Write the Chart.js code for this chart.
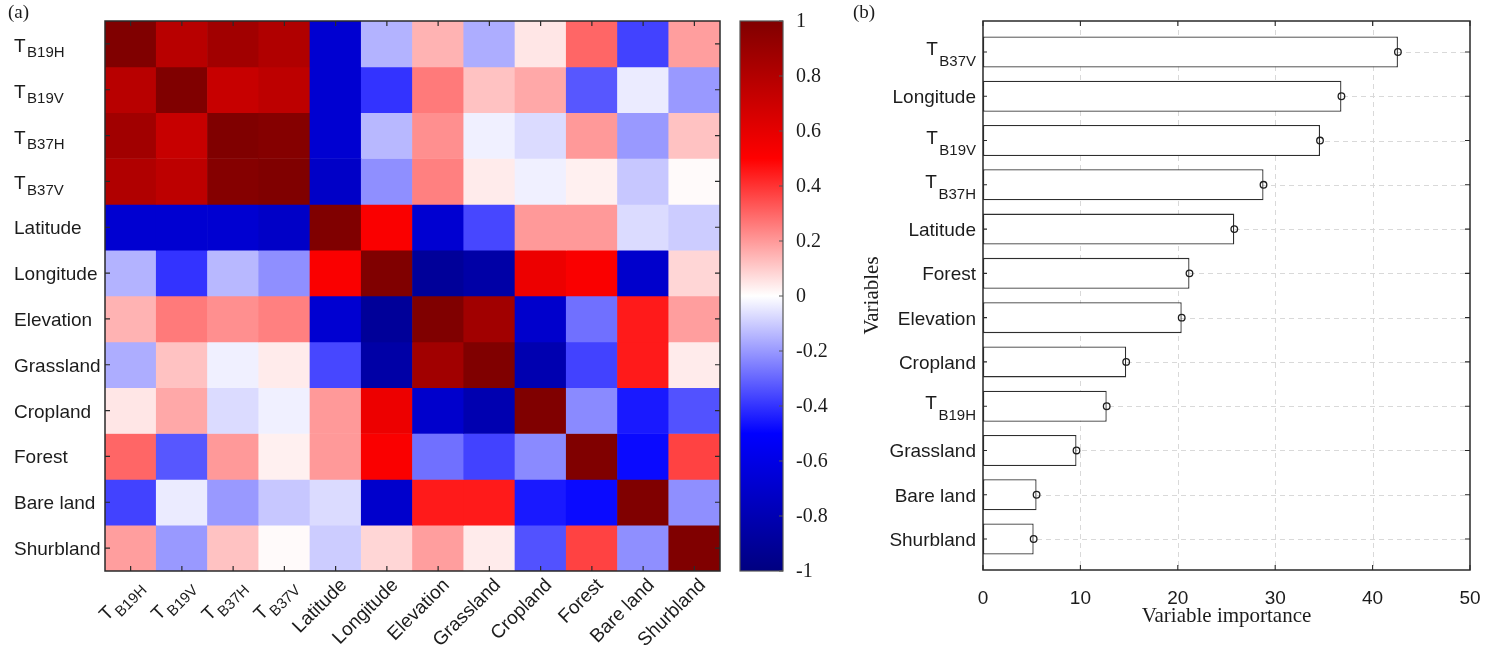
<!DOCTYPE html>
<html>
<head>
<meta charset="utf-8">
<script src="https://cdn.jsdelivr.net/npm/chart.js@4.4.0/dist/chart.umd.min.js"></script>
<style>
  html, body { margin: 0; padding: 0; background: #ffffff; }
  #wrap { position: relative; width: 1494px; height: 658px; overflow: hidden; }
  #wrap canvas { position: absolute; left: 0; top: 0; }
</style>
</head>
<body>
<div id="wrap">
  <canvas id="heat" width="1494" height="658"></canvas>
  <canvas id="cbar" width="1494" height="658"></canvas>
  <canvas id="imp" width="1494" height="658"></canvas>
</div>
<script>
// ---------------- DATA ----------------
// Panel (a): correlation matrix (rows/columns in this order)
const heatVars = ['T_B19H', 'T_B19V', 'T_B37H', 'T_B37V', 'Latitude', 'Longitude',
                  'Elevation', 'Grassland', 'Cropland', 'Forest', 'Bare land', 'Shurbland'];

const rowTB19H  = [ 1.00,  0.78,  0.87,  0.81, -0.68, -0.15,  0.15, -0.16,  0.05,  0.30, -0.37,  0.19];
const rowTB19V  = [ 0.78,  1.00,  0.72,  0.76, -0.68, -0.40,  0.26,  0.12,  0.17, -0.33, -0.04, -0.20];
const rowTB37H  = [ 0.87,  0.72,  1.00,  0.98, -0.68, -0.14,  0.22, -0.03, -0.07,  0.20, -0.20,  0.12];
const rowTB37V  = [ 0.81,  0.76,  0.98,  1.00, -0.72, -0.22,  0.25,  0.04, -0.03,  0.03, -0.11,  0.01];
const rowLat    = [-0.68, -0.68, -0.68, -0.72,  1.00,  0.52, -0.68, -0.36,  0.20,  0.20, -0.07, -0.10];
const rowLon    = [-0.15, -0.40, -0.14, -0.22,  0.52,  1.00, -0.90, -0.85,  0.57,  0.52, -0.70,  0.08];
const rowElev   = [ 0.15,  0.26,  0.22,  0.25, -0.68, -0.90,  1.00,  0.87, -0.70, -0.28,  0.45,  0.19];
const rowGrass  = [-0.16,  0.12, -0.03,  0.04, -0.36, -0.85,  0.87,  1.00, -0.81, -0.37,  0.45,  0.04];
const rowCrop   = [ 0.05,  0.17, -0.07, -0.03,  0.20,  0.57, -0.70, -0.81,  1.00, -0.23, -0.45, -0.34];
const rowForest = [ 0.30, -0.33,  0.20,  0.03,  0.20,  0.52, -0.28, -0.37, -0.23,  1.00, -0.48,  0.37];
const rowBare   = [-0.37, -0.04, -0.20, -0.11, -0.07, -0.70,  0.45,  0.45, -0.45, -0.48,  1.00, -0.22];
const rowShrub  = [ 0.19, -0.20,  0.12,  0.01, -0.10,  0.08,  0.19,  0.04, -0.34,  0.37, -0.22,  1.00];

const corrRows = [rowTB19H, rowTB19V, rowTB37H, rowTB37V, rowLat, rowLon,
                  rowElev, rowGrass, rowCrop, rowForest, rowBare, rowShrub];

// Colour bar
const cbarTicks = [1, 0.8, 0.6, 0.4, 0.2, 0, -0.2, -0.4, -0.6, -0.8, -1];
const cbarTickLabels = ['1', '0.8', '0.6', '0.4', '0.2', '0', '-0.2', '-0.4', '-0.6', '-0.8', '-1'];

// Panel (b): variable importance (top to bottom)
const impVars   = ['T_B37V', 'Longitude', 'T_B19V', 'T_B37H', 'Latitude', 'Forest',
                   'Elevation', 'Cropland', 'T_B19H', 'Grassland', 'Bare land', 'Shurbland'];
const impValues = [42.6, 36.8, 34.6, 28.8, 25.8, 21.2, 20.4, 14.7, 12.7, 9.6, 5.5, 5.2];
const impTicks  = [0, 10, 20, 30, 40, 50];

// ---------------- STYLE ----------------
const SANS = '"Liberation Sans", Arial, Helvetica, sans-serif';
const SERIF = '"Liberation Serif", "Times New Roman", Times, serif';
const TXT = '#1c1c1c';
const AXC = '#2a2a2a';

// Diverging colormap: navy -> blue -> white -> red -> dark red
const cmapStops = [
  { v: -1.0, c: [0, 0, 128] },
  { v: -0.5, c: [0, 0, 255] },
  { v:  0.0, c: [255, 255, 255] },
  { v:  0.5, c: [255, 0, 0] },
  { v:  1.0, c: [128, 0, 0] }
];
function cmap(v) {
  v = Math.max(-1, Math.min(1, v));
  for (let i = 0; i < cmapStops.length - 1; i++) {
    const a = cmapStops[i], b = cmapStops[i + 1];
    if (v >= a.v && v <= b.v) {
      const t = (v - a.v) / (b.v - a.v);
      const c = a.c.map((x, k) => Math.round(x + (b.c[k] - x) * t));
      return 'rgb(' + c.join(',') + ')';
    }
  }
  return 'rgb(128,0,0)';
}

function splitLabel(s) {
  const i = s.indexOf('_');
  return i < 0 ? { main: s, sub: '' } : { main: s.slice(0, i), sub: s.slice(i + 1) };
}
// Draw a label with optional subscript (T_B19H -> T with subscript B19H)
function drawLabel(ctx, text, x, y, align, mainSize, subSize, mainDy, subDy) {
  const p = splitLabel(text);
  ctx.font = mainSize + 'px ' + SANS;
  const wm = ctx.measureText(p.main).width;
  let ws = 0;
  const gap = p.sub ? 1.5 : 0;
  if (p.sub) { ctx.font = subSize + 'px ' + SANS; ws = ctx.measureText(p.sub).width; }
  const total = wm + gap + ws;
  const x0 = align === 'right' ? x - total : x;
  ctx.textAlign = 'left';
  ctx.textBaseline = 'alphabetic';
  ctx.fillStyle = TXT;
  ctx.font = mainSize + 'px ' + SANS;
  ctx.fillText(p.main, x0, y + (p.sub ? mainDy : 0));
  if (p.sub) {
    ctx.font = subSize + 'px ' + SANS;
    ctx.fillText(p.sub, x0 + wm + gap, y + subDy);
  }
}

const W = 1494, H = 658;

// ---------------- PANEL (a): HEATMAP ----------------
const heatArea = { left: 105, right: 720, top: 21, bottom: 571 };

const heatDecor = {
  id: 'heatDecor',
  afterDraw(chart) {
    const ctx = chart.ctx, a = chart.chartArea;
    const xs = chart.scales.x, ys = chart.scales.y;
    ctx.save();
    // frame
    ctx.strokeStyle = AXC; ctx.lineWidth = 1.5;
    ctx.strokeRect(a.left, a.top, a.right - a.left, a.bottom - a.top);
    // ticks (inward)
    ctx.lineWidth = 1.2;
    ctx.beginPath();
    heatVars.forEach((v, i) => {
      const px = xs.getPixelForValue(i);
      ctx.moveTo(px, a.bottom); ctx.lineTo(px, a.bottom - 5);
      ctx.moveTo(px, a.top); ctx.lineTo(px, a.top + 5);
      const py = ys.getPixelForValue(i + 0.5);
      ctx.moveTo(a.left, py); ctx.lineTo(a.left + 5, py);
      ctx.moveTo(a.right, py); ctx.lineTo(a.right - 5, py);
    });
    ctx.stroke();
    // row labels (left-aligned)
    heatVars.forEach((v, i) => {
      const py = ys.getPixelForValue(i + 0.5);
      drawLabel(ctx, v, 14, py + 7, 'left', 19, 15, 1, 6.5);
    });
    // column labels (rotated 45 deg)
    heatVars.forEach((v, i) => {
      const px = xs.getPixelForValue(i);
      ctx.save();
      ctx.translate(px + 12, a.bottom + 15);
      ctx.rotate(-Math.PI / 4);
      drawLabel(ctx, v, 0, 0, 'right', 19, 15, 0, 7);
      ctx.restore();
    });
    // panel tag
    ctx.fillStyle = TXT;
    ctx.font = '19px ' + SERIF;
    ctx.textAlign = 'left'; ctx.textBaseline = 'middle';
    ctx.fillText('(a)', 8, 13);
    ctx.restore();
  }
};

new Chart(document.getElementById('heat'), {
  type: 'bar',
  data: {
    labels: heatVars,
    datasets: corrRows.map((row, r) => ({
      label: heatVars[r],
      data: row.map(() => [r, r + 1]),
      backgroundColor: row.map(v => cmap(v)),
      borderWidth: 0,
      barPercentage: 1.0,
      categoryPercentage: 1.0,
      grouped: false
    }))
  },
  options: {
    responsive: false,
    animation: false,
    devicePixelRatio: 1,
    layout: { padding: { left: heatArea.left, right: W - heatArea.right, top: heatArea.top, bottom: H - heatArea.bottom } },
    plugins: { legend: { display: false }, tooltip: { enabled: false } },
    scales: {
      x: { type: 'category', display: false, offset: true },
      y: { type: 'linear', display: false, min: 0, max: 12, reverse: true }
    }
  },
  plugins: [heatDecor]
});

// ---------------- COLOUR BAR ----------------
const cbarArea = { left: 740, right: 783, top: 21, bottom: 571 };
const cbarDecor = {
  id: 'cbarDecor',
  afterDraw(chart) {
    const ctx = chart.ctx, a = chart.chartArea, ys = chart.scales.y;
    ctx.save();
    ctx.strokeStyle = '#555'; ctx.lineWidth = 1.2;
    ctx.strokeRect(a.left, a.top, a.right - a.left, a.bottom - a.top);
    ctx.beginPath();
    cbarTicks.forEach(t => {
      const py = ys.getPixelForValue(t);
      ctx.moveTo(a.right, py); ctx.lineTo(a.right - 4, py);
    });
    ctx.stroke();
    ctx.fillStyle = TXT;
    ctx.font = '20px ' + SERIF;
    ctx.textAlign = 'left'; ctx.textBaseline = 'middle';
    cbarTicks.forEach((t, i) => {
      ctx.fillText(cbarTickLabels[i], a.right + 13, ys.getPixelForValue(t) + 1);
    });
    ctx.restore();
  }
};
new Chart(document.getElementById('cbar'), {
  type: 'bar',
  data: {
    labels: ['colour'],
    datasets: [{
      data: [[-1, 1]],
      borderWidth: 0,
      barPercentage: 1.0,
      categoryPercentage: 1.0,
      backgroundColor(c) {
        const chart = c.chart;
        if (!chart.chartArea) return '#ffffff';
        const ys = chart.scales.y;
        const y0 = ys.getPixelForValue(-1), y1 = ys.getPixelForValue(1);
        const g = chart.ctx.createLinearGradient(0, y0, 0, y1);
        cmapStops.forEach(s => g.addColorStop((s.v + 1) / 2, cmap(s.v)));
        return g;
      }
    }]
  },
  options: {
    responsive: false,
    animation: false,
    devicePixelRatio: 1,
    layout: { padding: { left: cbarArea.left, right: W - cbarArea.right, top: cbarArea.top, bottom: H - cbarArea.bottom } },
    plugins: { legend: { display: false }, tooltip: { enabled: false } },
    scales: {
      x: { type: 'category', display: false },
      y: { type: 'linear', display: false, min: -1, max: 1 }
    }
  },
  plugins: [cbarDecor]
});

// ---------------- PANEL (b): VARIABLE IMPORTANCE ----------------
const impArea = { left: 983, right: 1470, top: 21, bottom: 570 };
const nVars = impVars.length;
const impPoints = impValues.map((v, i) => ({ x: v, y: nVars - i }));

const impDecor = {
  id: 'impDecor',
  beforeDatasetsDraw(chart) {
    const ctx = chart.ctx, a = chart.chartArea, xs = chart.scales.x, ys = chart.scales.y;
    ctx.save();
    ctx.strokeStyle = '#d9d9d9'; ctx.lineWidth = 1;
    ctx.setLineDash([5, 4]);
    ctx.beginPath();
    impTicks.slice(1, -1).forEach(t => {
      const px = Math.round(xs.getPixelForValue(t)) + 0.5;
      ctx.moveTo(px, a.top); ctx.lineTo(px, a.bottom);
    });
    impVars.forEach((v, i) => {
      const py = Math.round(ys.getPixelForValue(nVars - i)) + 0.5;
      ctx.moveTo(a.left, py); ctx.lineTo(a.right, py);
    });
    ctx.stroke();
    ctx.restore();
  },
  afterDraw(chart) {
    const ctx = chart.ctx, a = chart.chartArea, xs = chart.scales.x, ys = chart.scales.y;
    ctx.save();
    ctx.strokeStyle = AXC; ctx.lineWidth = 1.5;
    ctx.strokeRect(a.left, a.top, a.right - a.left, a.bottom - a.top);
    ctx.lineWidth = 1.1;
    ctx.beginPath();
    impTicks.forEach(t => {
      const px = xs.getPixelForValue(t);
      ctx.moveTo(px, a.bottom); ctx.lineTo(px, a.bottom - 5);
      ctx.moveTo(px, a.top); ctx.lineTo(px, a.top + 5);
    });
    impVars.forEach((v, i) => {
      const py = ys.getPixelForValue(nVars - i);
      ctx.moveTo(a.left, py); ctx.lineTo(a.left + 4, py);
      ctx.moveTo(a.right, py); ctx.lineTo(a.right - 5, py);
    });
    ctx.stroke();
    // y labels
    impVars.forEach((v, i) => {
      const py = ys.getPixelForValue(nVars - i);
      drawLabel(ctx, v, a.left - 7, py + 7, 'right', 19, 15, -4, 7);
    });
    // x tick labels
    ctx.fillStyle = TXT;
    ctx.font = '19px ' + SANS;
    ctx.textAlign = 'center'; ctx.textBaseline = 'middle';
    impTicks.forEach(t => ctx.fillText(String(t), xs.getPixelForValue(t), a.bottom + 29));
    // axis titles
    ctx.font = '21px ' + SERIF;
    ctx.fillText('Variable importance', (a.left + a.right) / 2, a.bottom + 46);
    ctx.save();
    ctx.translate(872, (a.top + a.bottom) / 2);
    ctx.rotate(-Math.PI / 2);
    ctx.fillText('Variables', 0, 0);
    ctx.restore();
    ctx.font = '19px ' + SERIF;
    ctx.textAlign = 'left';
    ctx.fillText('(b)', 853, 13);
    ctx.restore();
  }
};

new Chart(document.getElementById('imp'), {
  type: 'bar',
  data: {
    datasets: [
      {
        type: 'bar',
        data: impPoints,
        backgroundColor: '#ffffff',
        borderColor: '#2e2e2e',
        borderWidth: 1.3,
        borderSkipped: false,
        barPercentage: 0.7,
        categoryPercentage: 1.0,
        order: 2
      },
      {
        type: 'scatter',
        data: impPoints,
        pointRadius: 3.3,
        pointBackgroundColor: 'rgba(255,255,255,0)',
        pointBorderColor: '#1e1e1e',
        pointBorderWidth: 1.3,
        showLine: false,
        order: 1
      }
    ]
  },
  options: {
    indexAxis: 'y',
    responsive: false,
    animation: false,
    devicePixelRatio: 1,
    layout: { padding: { left: impArea.left, right: W - impArea.right, top: impArea.top, bottom: H - impArea.bottom } },
    plugins: { legend: { display: false }, tooltip: { enabled: false } },
    scales: {
      x: { type: 'linear', display: false, min: 0, max: 50 },
      y: {
        type: 'linear', display: false, min: 0.3, max: 12.7, offset: false,
        afterBuildTicks(scale) {
          scale.ticks = impVars.map((v, i) => ({ value: i + 1 }));
        }
      }
    }
  },
  plugins: [impDecor]
});
</script>
</body>
</html>
